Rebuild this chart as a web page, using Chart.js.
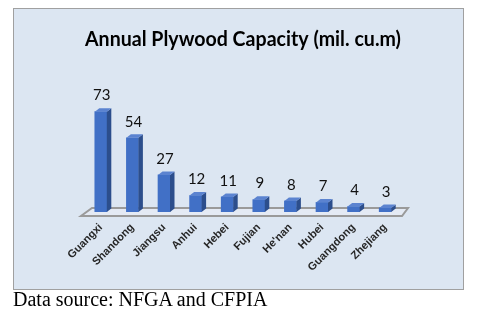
<!DOCTYPE html>
<html><head><meta charset="utf-8">
<script src="https://cdn.jsdelivr.net/npm/chart.js@4"></script>
<style>
html,body{margin:0;padding:0;background:#fff;}
#box{position:absolute;left:13px;top:8px;width:449px;height:280px;border:1px solid #a0a0a0;background:#dce6f2;}
#cap{position:absolute;left:13px;top:288px;font-family:"Liberation Serif","Times New Roman",serif;font-size:20px;color:#000;white-space:nowrap;}
canvas{display:block;}
</style></head>
<body>
<div id="box"><canvas id="c" width="449" height="280"></canvas></div>
<div id="cap">Data source: NFGA and CFPIA</div>
<script>
const categories = ["Guangxi","Shandong","Jiangsu","Anhui","Hebei","Fujian","He'nan","Hubei","Guangdong","Zhejiang"];
const capacity = [73,54,27,12,11,9,8,7,4,3];
const titleText = "Annual Plywood Capacity (mil. cu.m)";

const DX = 4.5, DY = 3.5;

const floorPlugin = {
  id:'floor3d',
  beforeDatasetsDraw(chart){
    const {ctx, chartArea:a, scales} = chart;
    const base = scales.y.getPixelForValue(0);
    ctx.save();
    ctx.beginPath();
    ctx.moveTo(a.left-4, base+4);
    ctx.lineTo(a.right+1, base+4);
    ctx.lineTo(a.right+7, base-4);
    ctx.lineTo(a.left+7, base-4);
    ctx.closePath();
    ctx.fillStyle = '#e4eaf4';
    ctx.fill();
    ctx.lineWidth = 2;
    ctx.strokeStyle = '#9a9a9a';
    ctx.stroke();
    ctx.restore();
  },
  afterDatasetsDraw(chart){
    const {ctx} = chart;
    const meta = chart.getDatasetMeta(0);
    ctx.save();
    meta.data.forEach((bar, i) => {
      const w = bar.width, l = bar.x - w/2, r = bar.x + w/2, t = bar.y, b = bar.base;
      ctx.beginPath();
      ctx.moveTo(r, t); ctx.lineTo(r+DX, t-DY); ctx.lineTo(r+DX, b-DY); ctx.lineTo(r, b); ctx.closePath();
      ctx.fillStyle = '#2c4e8c'; ctx.fill();
      ctx.beginPath();
      ctx.moveTo(l, t); ctx.lineTo(l+DX, t-DY); ctx.lineTo(r+DX, t-DY); ctx.lineTo(r, t); ctx.closePath();
      ctx.fillStyle = '#5b83d0'; ctx.fill();
      ctx.fillStyle = '#111';
      ctx.font = '15px Lato, "Open Sans", sans-serif';
      ctx.textAlign = 'center';
      ctx.textBaseline = 'bottom';
      ctx.fillText(String(capacity[i]), bar.x + 1, t - DY - 5);
    });
    ctx.restore();
  }
};

new Chart(document.getElementById('c'), {
  type:'bar',
  data:{
    labels: categories,
    datasets:[{
      data: capacity,
      backgroundColor: '#4170c6',
      borderWidth:0,
      barThickness:12
    }]
  },
  options:{
    responsive:false,
    animation:false,
    layout:{padding:{left:71,right:62,top:0,bottom:0}},
    plugins:{
      legend:{display:false},
      tooltip:{enabled:false},
      title:{display:true,text:titleText,color:'#000',
        font:{family:'Lato, "Open Sans", sans-serif',size:20,weight:'bold'},
        padding:{top:19,bottom:50}}
    },
    scales:{
      y:{display:false,min:0,max:80},
      x:{
        grid:{display:false,drawTicks:false},
        border:{display:false},
        ticks:{maxRotation:45,minRotation:45,padding:9,color:'#262626',
          font:{family:'"Liberation Sans", Arial, sans-serif',size:11,weight:'bold'}},
        afterFit(s){ s.height = 77; }
      }
    }
  },
  plugins:[floorPlugin]
});
</script>
</body></html>
